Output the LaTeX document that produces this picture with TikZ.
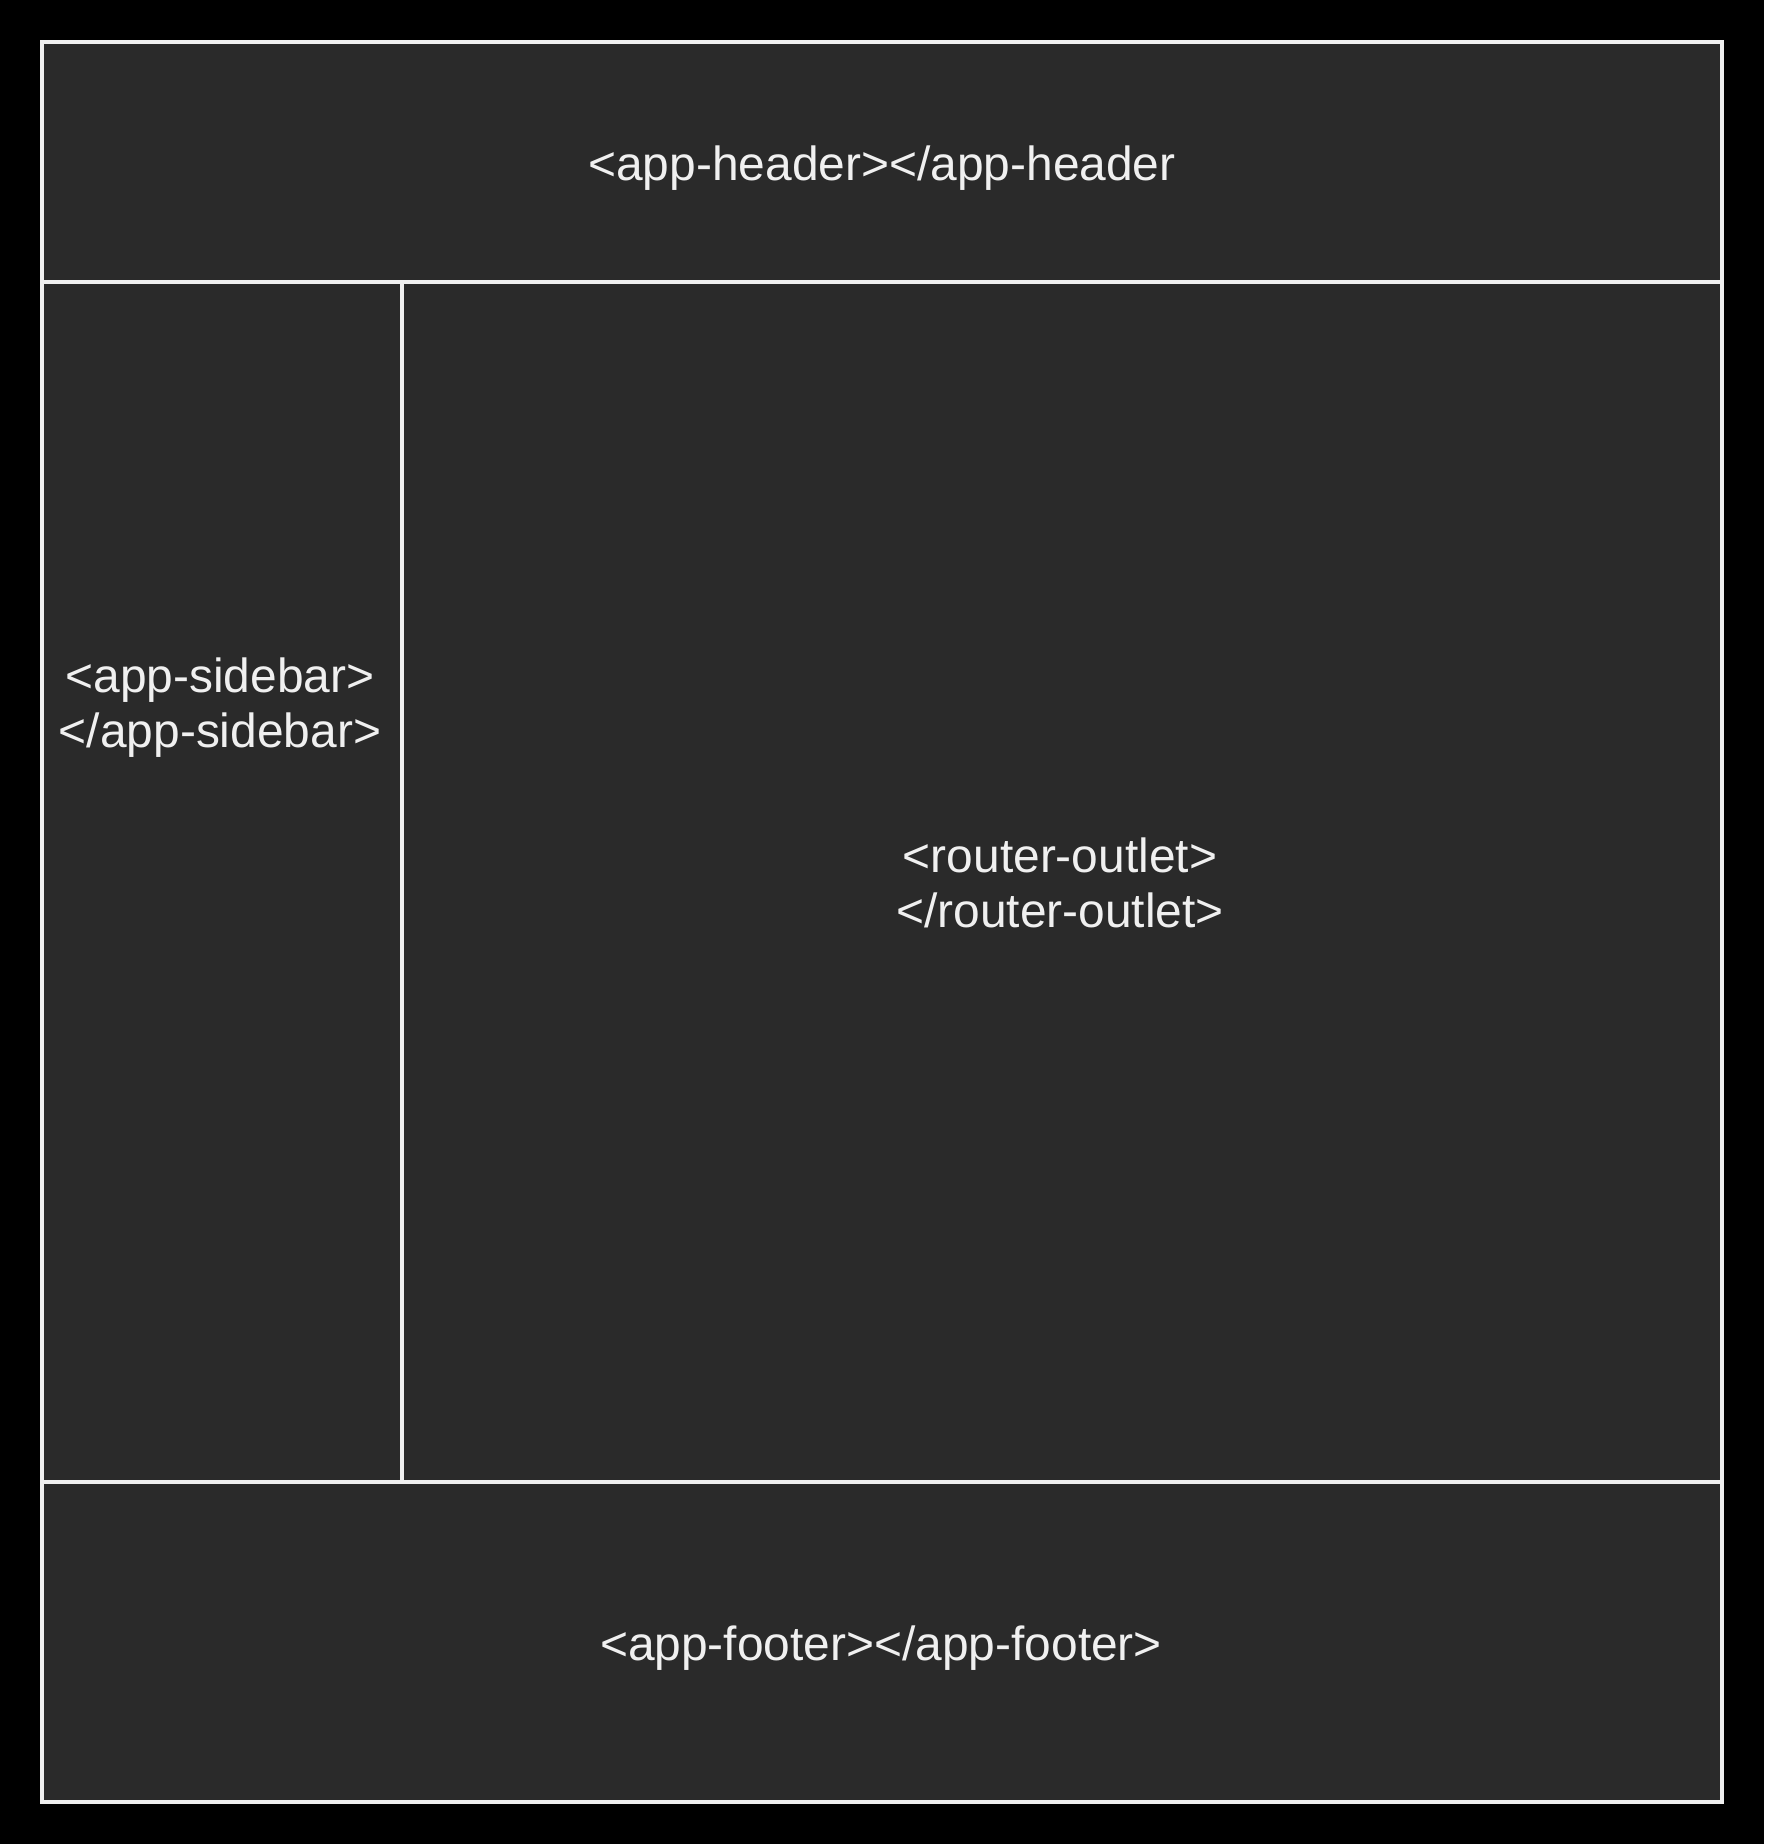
\documentclass[tikz,border=0pt]{standalone}
\usepackage{fontspec}
\setmainfont{Liberation Sans}
\usepackage{xcolor}
\usepackage{tikz}
\usetikzlibrary{positioning}

\definecolor{pagebg}{HTML}{000000}
\definecolor{panelfill}{HTML}{2A2A2A}
\definecolor{panelline}{HTML}{F0F0F0}

\tikzset{
  panel/.style={draw=panelline, line width=4pt},
  tagtext/.style={text=panelline, align=center, inner sep=0pt,
    font=\fontsize{47.9}{55}\selectfont}
}

\begin{document}
\begin{tikzpicture}[x=1pt, y=-1pt]
        \fill[pagebg] (0,0) rectangle (1764,1844);
        \useasboundingbox (0,0) rectangle (1764,1844);
        \fill[panelfill] (42,42) rectangle (1722,1802);
        % header, sidebar, outlet, footer
        \draw[panel] (42,42) rectangle (1722,282);
        \draw[panel] (42,282) rectangle (402,1482);
        \draw[panel] (402,282) rectangle (1722,1482);
        \draw[panel] (42,1482) rectangle (1722,1802);
        \node[tagtext, anchor=base] (header) at (882,180) {<app-header></app-header};
        \node[tagtext, anchor=base] (sidebar) at (220,747) {<app-sidebar>\\</app-sidebar>};
        \node[tagtext, anchor=base] (outlet) at (1060,927) {<router-outlet>\\</router-outlet>};
        \node[tagtext, anchor=base] (footer) at (881,1660) {<app-footer></app-footer>};
\end{tikzpicture}
\end{document}
